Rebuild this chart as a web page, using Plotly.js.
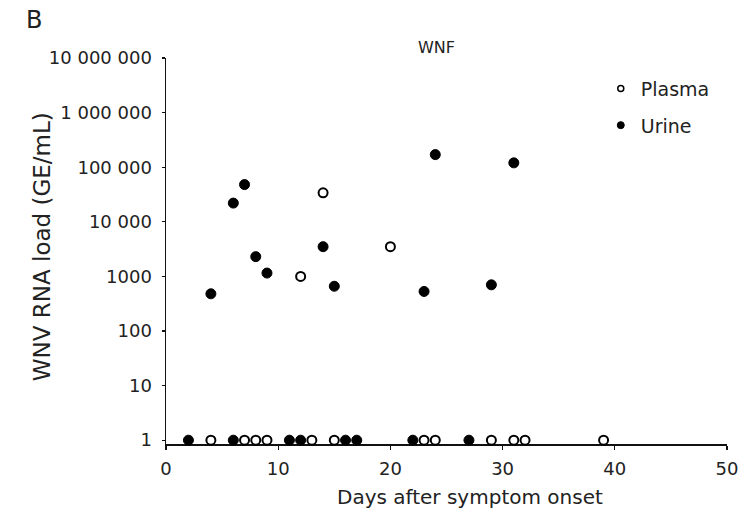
<!DOCTYPE html>
<html>
<head>
<meta charset="utf-8">
<script src="https://cdn.plot.ly/plotly-3.0.1.min.js"></script>
<style>html,body{margin:0;padding:0;background:#fff;}#chart{width:747px;height:516px;}</style>
</head>
<body>
<div id="chart"></div>
<script>
// Plasma (open circles)
const plasmaDays = [12, 14, 20, 4, 7, 8, 9, 13, 15, 23, 24, 29, 31, 32, 39];
const plasmaLoad = [1000, 34000, 3500, 1, 1, 1, 1, 1, 1, 1, 1, 1, 1, 1, 1];
// Urine (filled circles)
const urineDays = [4, 6, 7, 8, 9, 14, 15, 23, 24, 29, 31, 2, 6, 11, 12, 16, 17, 22, 27];
const urineLoad = [480, 22000, 48000, 2300, 1150, 3500, 660, 530, 170000, 700, 120000, 1, 1, 1, 1, 1, 1, 1, 1];

const yTickVals = [1, 10, 100, 1000, 10000, 100000, 1000000, 10000000];
const yTickText = ["1", "10", "100", "1000", "10 000", "100 000", "1 000 000", "10 000 000"];
const xTickVals = [0, 10, 20, 30, 40, 50];

const font = "DejaVu Sans, Liberation Sans, Arial, sans-serif";
const txt = "#222";

const traces = [
  {x: urineDays, y: urineLoad, type: "scatter", mode: "markers", name: "Urine", showlegend: false,
   marker: {symbol: "circle", size: 10, color: "#000", line: {color: "#000", width: 1}}, cliponaxis: false},
  {x: plasmaDays, y: plasmaLoad, type: "scatter", mode: "markers", name: "Plasma", showlegend: false,
   marker: {symbol: "circle", size: 9, color: "#fff", line: {color: "#000", width: 2}}, cliponaxis: false},
  {x: [null], y: [null], type: "scatter", mode: "markers", name: "Plasma", legendgroup: "a",
   marker: {symbol: "circle", size: 6, color: "#fff", line: {color: "#000", width: 1.5}}},
  {x: [null], y: [null], type: "scatter", mode: "markers", name: "Urine", legendgroup: "b",
   marker: {symbol: "circle", size: 7, color: "#000", line: {color: "#000", width: 1}}}
];

const layout = {
  width: 747, height: 516,
  margin: {l: 166, r: 20, t: 58, b: 72, autoexpand: false},
  paper_bgcolor: "#fff", plot_bgcolor: "#fff",
  font: {family: font, color: txt, size: 18},
  title: {text: "WNF", font: {size: 16, color: txt, family: font}, xref: "paper", x: 0.482, xanchor: "center",
          yref: "container", y: 1 - 47 / 516, yanchor: "middle"},
  xaxis: {
    range: [0, 50], tickvals: xTickVals, ticktext: xTickVals.map(String),
    showgrid: false, zeroline: false, showline: true, linecolor: "#111", linewidth: 1.5,
    ticks: "outside", ticklen: 4, tickwidth: 1.2, tickcolor: "#111", ticklabelstandoff: 4,
    tickfont: {size: 18, color: txt}, layer: "below traces"
  },
  yaxis: {
    type: "log", range: [-0.07, 7], tickvals: yTickVals, ticktext: yTickText,
    showgrid: false, zeroline: false, showline: true, linecolor: "#111", linewidth: 1.5,
    ticks: "outside", ticklen: 3, tickwidth: 1.2, tickcolor: "#111",
    tickfont: {size: 18, color: txt}, layer: "below traces", ticklabelstandoff: 6
  },
  showlegend: true,
  legend: {x: 0.775, y: 0.97, xanchor: "left", yanchor: "top", font: {size: 19, color: txt},
    bgcolor: "rgba(0,0,0,0)", traceorder: "grouped", tracegroupgap: 9, itemwidth: 30},
  annotations: [
    {text: "B", xref: "paper", yref: "paper", x: -0.235, y: 1.098, xanchor: "center", yanchor: "middle",
     showarrow: false, font: {size: 24, color: txt, family: font}},
    {text: "Days after symptom onset", xref: "paper", yref: "paper", x: 0.542, y: -0.137,
     xanchor: "center", yanchor: "middle", showarrow: false, font: {size: 20, color: txt, family: font}},
    {text: "WNV RNA load (GE/mL)", xref: "paper", yref: "paper", x: -0.221, y: 0.51, textangle: -90,
     xanchor: "center", yanchor: "middle", showarrow: false, font: {size: 23, color: txt, family: font}}
  ]
};

Plotly.newPlot("chart", traces, layout, {displayModeBar: false, staticPlot: true});
</script>
</body>
</html>
